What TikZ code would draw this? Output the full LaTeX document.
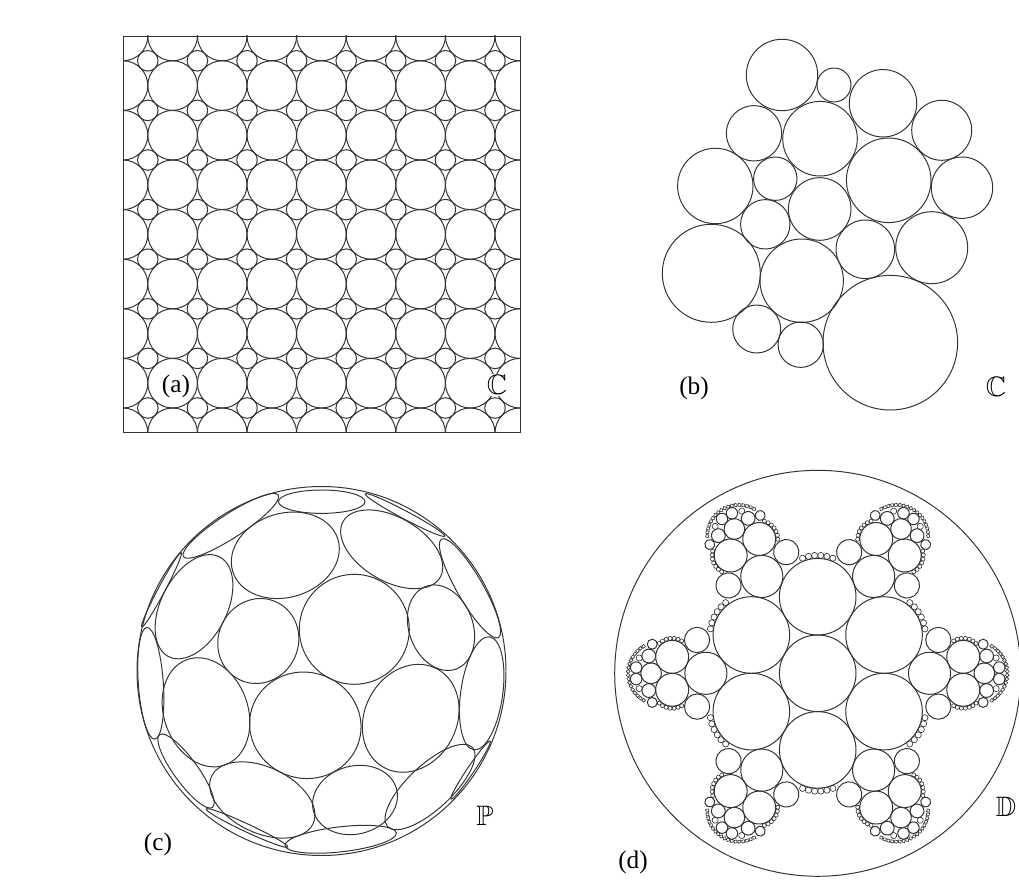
\documentclass[tikz,border=0pt]{standalone}
\usepackage{amssymb}
\usepackage{fontspec}
\setmainfont{Liberation Serif}
\tikzset{
  pack/.style={line width=0.7pt, draw=black!80},
  fine/.style={line width=0.45pt, draw=black!80},
  lbl/.style={font=\fontsize{18}{20}\selectfont, inner sep=0pt},
  setlbl/.style={font=\fontsize{20}{22}\selectfont, inner sep=1pt},
}
\begin{document}
\begin{tikzpicture}[x=0.025cm, y=-0.025cm]
  \useasboundingbox (0,0) rectangle (1019,892);

  % (a) square lattice in C
  \def\sp{49.6}
  \begin{scope}
    \clip (123,36) rectangle (520,432);
    \foreach \i in {0,...,8}
      \foreach \j in {0,...,8}
        \draw[pack] (123+\i*\sp, 36+\j*\sp) circle [radius=\sp/2];
    \foreach \i in {0,...,7}
      \foreach \j in {0,...,7}
        \draw[pack] (123+\i*\sp+\sp/2, 36+\j*\sp+\sp/2) circle [radius=0.2071*\sp];
  \end{scope}
  \draw[pack] (123,36) rectangle (520,432);
  \node[lbl] (la) at (176,386) {(a)};
  \node[setlbl, fill=white] (ca) at (497,385) {$\mathbb{C}$};

  % (b) univalent packing in C
  \foreach \cx/\cy/\r in {782/75/35.7, 834/85/17, 883/103.3/33.7, 941.7/130.3/30,
      754/133.3/27.7, 820/138.7/37.3, 715.3/186/37.7, 775.3/178.7/21.7,
      888.7/180.3/42.3, 962/187.7/30.7, 819.7/209/31.3, 765.3/224.3/24.7,
      865.3/249.3/29.3, 931.7/247.7/36, 711.3/273.3/49, 801.7/280.7/41.7,
      756.7/329/24, 800.7/344.7/22.7, 890.3/342.7/67.3}
    \draw[pack] (\cx,\cy) circle [radius=\r];
  \node[lbl] (lb) at (694,388) {(b)};
  \node[setlbl] (cb) at (996,387) {$\mathbb{C}$};

  % (c) packing on the sphere P
  \draw[pack] (321.5,671) circle [radius=184.5];
  \foreach \cx/\cy/\ea/\eb/\ang in {321.7/501.7/43.3/11.7/0, 230.8/525.8/56.6/12/33,
      285.3/555.3/55/42/17, 391.7/549.3/56/32/-30, 470/588.3/56.9/13/-60,
      194/606.7/56/33/63, 150.8/683.3/56/12.5/94, 258.3/641/43/40/65,
      354.3/629.3/55/55/0, 441/627.7/44/32/110, 481.7/693.3/57/21/82,
      206/712.3/56/42/110, 305.3/725.3/56/53/163, 410.7/718.3/56/46/62,
      186/771/45/12/-54, 262.3/800/56/33/-25, 355/800/43/34/15,
      430/787/58/22/43, 340.7/839.3/56/12.5/6.5,
      161.5/589.8/42/3.5/62, 405/515/45/4/-28, 247/828/45/4/-25, 470.6/770.1/35/3.5/56}
    \draw[pack, rotate around={\ang:(\cx,\cy)}] (\cx,\cy) ellipse [x radius=\ea, y radius=\eb];
  \node[lbl] (lc) at (158,844) {(c)};
  \node[setlbl] (cc) at (485,816) {$\mathbb{P}$};

  % (d) maximal packing in D
  \begin{scope}[shift={(817.7,673.3)}, scale=38.3]
    \draw[pack] (0,0) circle [radius=5.3];
    \draw[pack] (0,0) circle [radius=1];
    \foreach \a in {30,90,...,330} {
      \draw[pack] (\a:2) circle [radius=1];
      \begin{scope}[shift={(\a:2)}]
        \foreach \t in {-21.5,-12.9,-4.3,4.3,12.9,21.5}
          \draw[fine] (\a+\t:1.08) circle [radius=0.08];
      \end{scope}
    }
    \foreach \a in {0,60,...,300} {
      \begin{scope}[rotate=\a]
        \draw[pack] (2.92,0) circle [radius=0.55];
        \draw[pack] (4.35,0) circle [radius=0.27];
        \foreach \s in {1,-1} {
          \begin{scope}[yscale=\s]
            \draw[pack] (3.15,0.87) circle [radius=0.33];
            \draw[pack] (3.80,0.43) circle [radius=0.43];
            \draw[pack] (4.41,0.45) circle [radius=0.18];
            \draw[pack] (4.74,0.15) circle [radius=0.15];
            \draw[pack] (4.32,0.76) circle [radius=0.13];
            \draw[fine] (4.66,0.40) circle [radius=0.08];
            \begin{scope}[shift={(3.80,0.43)}]
              \foreach \t in {121,108.5,96,83.5,71,58.5,46}
                \draw[fine] (\t:0.485) circle [radius=0.052];
            \end{scope}
            \begin{scope}[shift={(4.13,0)}]
              \foreach \t in {3.5,10.5,17.5,24.5,31.5,38.5,45.5,52.5,59.5}
                \draw[fine] (\t:0.82) circle [radius=0.05];
            \end{scope}
          \end{scope}
        }
      \end{scope}
    }
  \end{scope}
  \node[lbl] (ld) at (633,862) {(d)};
  \node[setlbl] (cd) at (1006,807) {$\mathbb{D}$};
\end{tikzpicture}
\end{document}
